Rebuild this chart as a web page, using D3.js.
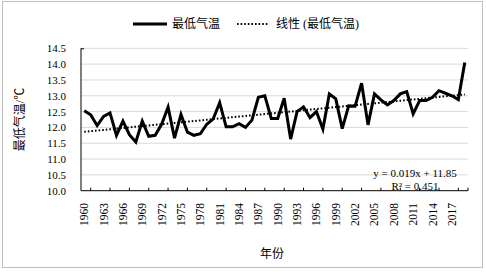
<!DOCTYPE html>
<html>
<head>
<meta charset="utf-8">
<script src="https://cdn.jsdelivr.net/npm/d3@7/dist/d3.min.js"></script>
<style>
  html, body { margin: 0; padding: 0; background: #fff; }
  svg text { font-family: "Liberation Serif", "Noto Sans CJK SC", serif; fill: #000; }
</style>
</head>
<body>
<div id="chart"></div>
<script>
// Annual minimum temperature, 1960-2019, with linear trend

const startYear = 1960;
const minTemp = [
  12.53, 12.40, 12.06, 12.35, 12.46, 11.75, 12.20, 11.77, 11.54, 12.20,
  11.72, 11.75, 12.10, 12.64, 11.66, 12.41, 11.85, 11.75, 11.80, 12.10,
  12.27, 12.78, 12.02, 12.02, 12.12, 12.00, 12.23, 12.95, 13.00, 12.28,
  12.28, 12.92, 11.63, 12.50, 12.65, 12.31, 12.50, 11.95, 13.06, 12.90,
  11.96, 12.68, 12.67, 13.40, 12.08, 13.06, 12.87, 12.71, 12.85, 13.06,
  13.13, 12.43, 12.85, 12.85, 12.95, 13.16, 13.08, 13.00, 12.88, 14.05
];
const years = minTemp.map((_, i) => startYear + i);
const yTicks = [10.0, 10.5, 11.0, 11.5, 12.0, 12.5, 13.0, 13.5, 14.0, 14.5];
const seriesNames = ['最低气温', '线性 (最低气温)'];
const equationText = ['y = 0.019x + 11.85', 'R² = 0.451'];

const width = 486, height = 272;
const plot = { left: 81, right: 468, top: 48.3, bottom: 190.7 };

const svg = d3.select('#chart').append('svg')
  .attr('width', width)
  .attr('height', height);

// Outer chart border
svg.append('rect')
  .attr('x', 2.5).attr('y', 1.5)
  .attr('width', 480).attr('height', 266)
  .attr('fill', '#fff')
  .attr('stroke', '#bfbfbf');

const x = d3.scaleBand()
  .domain(years)
  .range([plot.left, plot.right])
  .paddingInner(0).paddingOuter(0);
const cx = d => x(d) + x.bandwidth() / 2;

const y = d3.scaleLinear()
  .domain([10, 14.5])
  .range([plot.bottom, plot.top]);

// Gridlines
svg.append('g')
  .selectAll('line')
  .data(yTicks.slice(1))
  .enter().append('line')
  .attr('x1', plot.left).attr('x2', plot.right)
  .attr('y1', d => y(d)).attr('y2', d => y(d))
  .attr('stroke', '#d9d9d9')
  .attr('stroke-width', 1);

// Y tick labels
svg.append('g')
  .selectAll('text')
  .data(yTicks)
  .enter().append('text')
  .attr('x', 66)
  .attr('y', d => y(d) + 4)
  .attr('text-anchor', 'end')
  .attr('font-size', 11)
  .text(d => d.toFixed(1));

// Axis lines
svg.append('line')
  .attr('x1', plot.left).attr('x2', plot.left)
  .attr('y1', plot.top).attr('y2', plot.bottom)
  .attr('stroke', '#000');
svg.append('line')
  .attr('x1', plot.left).attr('x2', plot.left + 3)
  .attr('y1', plot.top + 0.5).attr('y2', plot.top + 0.5)
  .attr('stroke', '#000');
svg.append('line')
  .attr('x1', plot.left).attr('x2', plot.right)
  .attr('y1', plot.bottom).attr('y2', plot.bottom)
  .attr('stroke', '#000');

// X tick marks
const tickYears = years.filter(d => (d - startYear) % 3 === 1);
svg.append('g')
  .selectAll('line')
  .data(tickYears)
  .enter().append('line')
  .attr('x1', d => cx(d)).attr('x2', d => cx(d))
  .attr('y1', plot.bottom).attr('y2', plot.bottom - 3)
  .attr('stroke', '#000');
svg.append('line')
  .attr('x1', plot.right).attr('x2', plot.right)
  .attr('y1', plot.bottom).attr('y2', plot.bottom - 3)
  .attr('stroke', '#000');

// X tick labels (rotated)
const labelYears = years.filter(d => (d - startYear) % 3 === 0);
svg.append('g')
  .selectAll('text')
  .data(labelYears)
  .enter().append('text')
  .attr('transform', d => `translate(${cx(d) + 4},203) rotate(-90)`)
  .attr('text-anchor', 'end')
  .attr('font-size', 11.5)
  .text(d => d);

// Linear trend (least squares on index 1..n)
const xs = minTemp.map((_, i) => i + 1);
const mx = d3.mean(xs), my = d3.mean(minTemp);
const slope = d3.sum(xs, (v, i) => (v - mx) * (minTemp[i] - my)) / d3.sum(xs, v => (v - mx) ** 2);
const intercept = my - slope * mx;
const trend = years.map((yr, i) => ({ year: yr, value: intercept + slope * (i + 1) }));

const line = d3.line().x(d => cx(d.year)).y(d => y(d.value));

svg.append('path')
  .datum(trend)
  .attr('d', line)
  .attr('fill', 'none')
  .attr('stroke', '#000')
  .attr('stroke-width', 2)
  .attr('stroke-dasharray', '1.6,2');

svg.append('path')
  .datum(years.map((yr, i) => ({ year: yr, value: minTemp[i] })))
  .attr('d', line)
  .attr('fill', 'none')
  .attr('stroke', '#000')
  .attr('stroke-width', 3)
  .attr('stroke-linejoin', 'miter');

// Trend equation
svg.append('g')
  .selectAll('text')
  .data(equationText)
  .enter().append('text')
  .attr('x', 415)
  .attr('y', (d, i) => 177 + i * 13)
  .attr('text-anchor', 'middle')
  .attr('font-size', 11)
  .text(d => d);

// Axis titles
svg.append('text')
  .attr('transform', `translate(24,${(plot.top + plot.bottom) / 2}) rotate(-90)`)
  .attr('text-anchor', 'middle')
  .attr('font-size', 12)
  .text('最低气温/℃');

svg.append('text')
  .attr('x', 272)
  .attr('y', 258)
  .attr('text-anchor', 'middle')
  .attr('font-size', 12)
  .text('年份');

// Legend
const legend = svg.append('g');
legend.append('line')
  .attr('x1', 133).attr('x2', 167)
  .attr('y1', 24).attr('y2', 24)
  .attr('stroke', '#000').attr('stroke-width', 3);
legend.append('text')
  .attr('x', 172).attr('y', 28)
  .attr('font-size', 12)
  .text(seriesNames[0]);
legend.append('line')
  .attr('x1', 237).attr('x2', 269)
  .attr('y1', 24).attr('y2', 24)
  .attr('stroke', '#000').attr('stroke-width', 2)
  .attr('stroke-dasharray', '1.6,2');
legend.append('text')
  .attr('x', 276).attr('y', 28)
  .attr('font-size', 12)
  .text(seriesNames[1]);
</script>
</body>
</html>
